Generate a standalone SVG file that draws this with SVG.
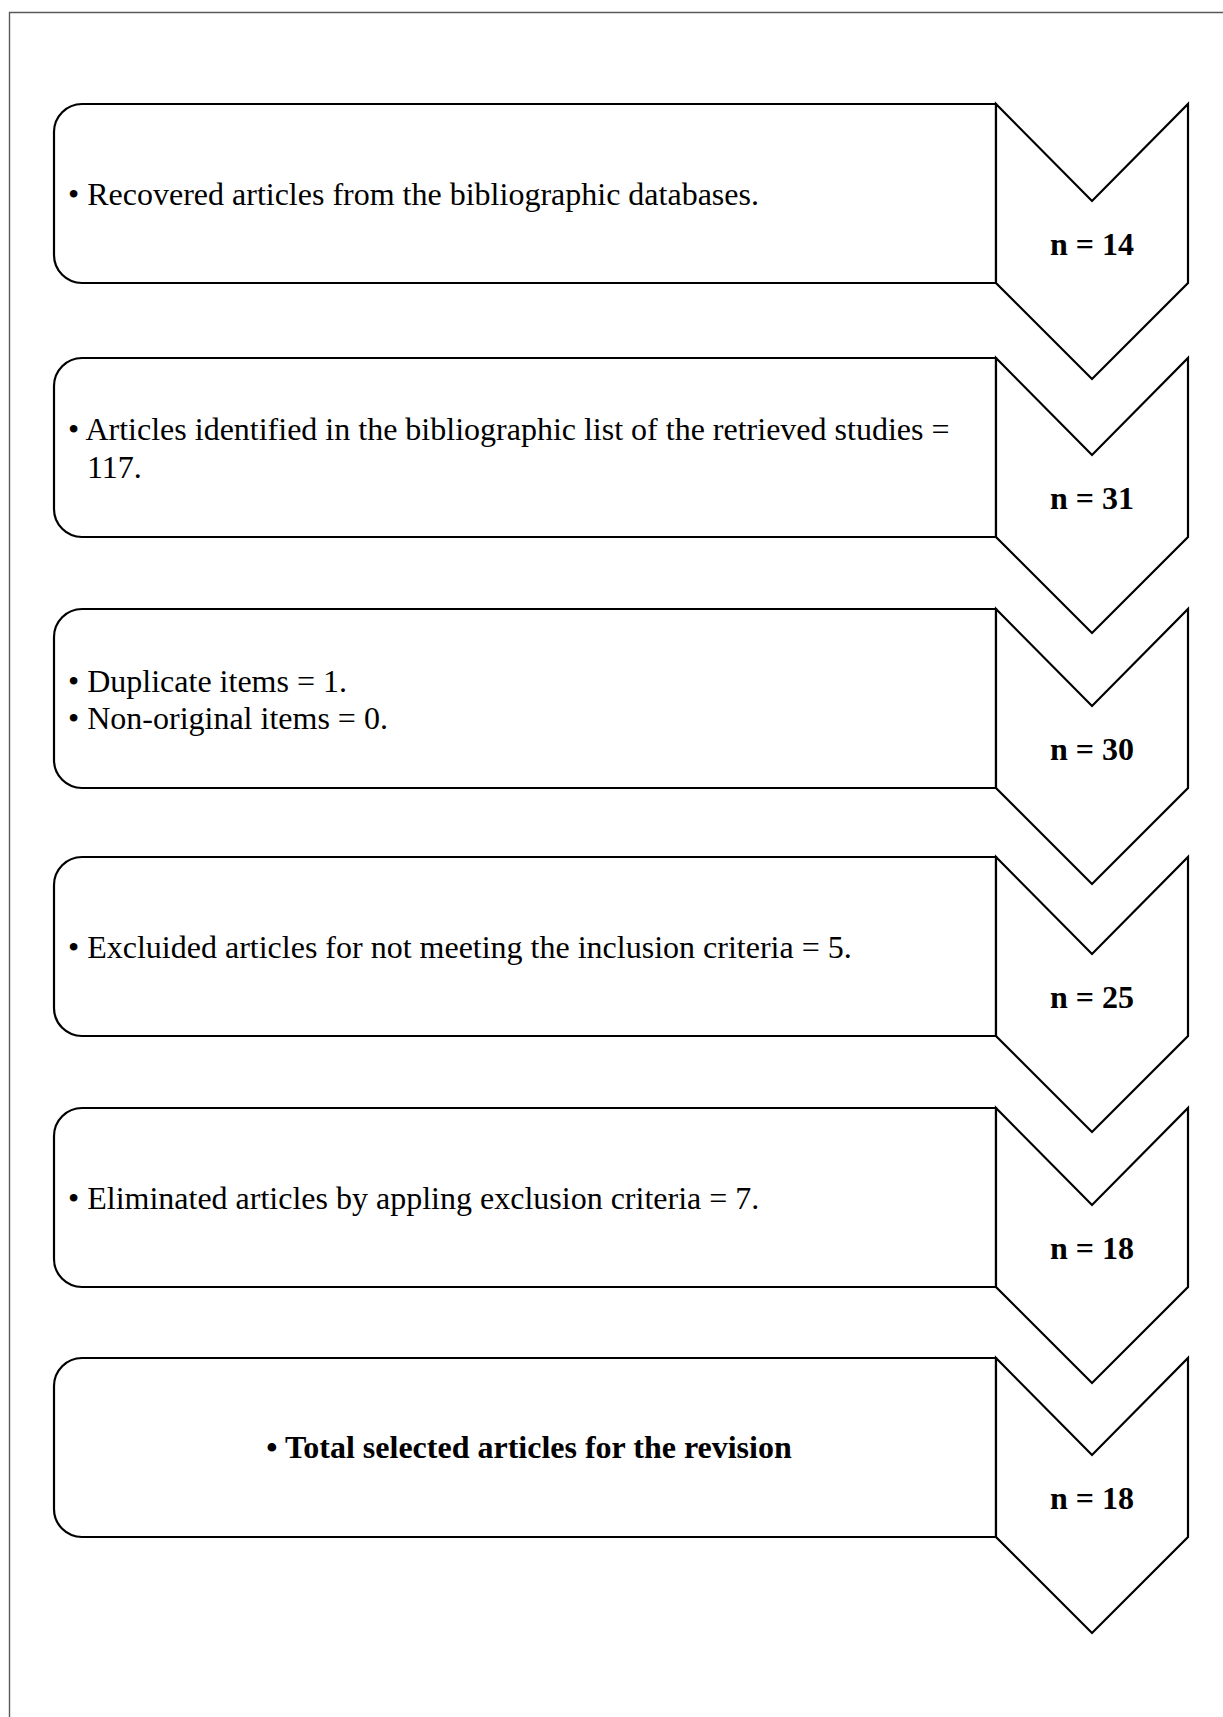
<svg xmlns="http://www.w3.org/2000/svg" width="1223" height="1717" viewBox="0 0 1223 1717">
  <style>
    .frame { fill: none; stroke: #595959; stroke-width: 1.4; }
    .box { fill: #ffffff; stroke: #000000; stroke-width: 2.2; stroke-linejoin: miter; }
    .chev { fill: #ffffff; stroke: #000000; stroke-width: 2.2; stroke-linejoin: miter; }
    .txt { font-family: "Liberation Serif", "Times New Roman", serif; font-size: 32px; fill: #000000; }
    .bold { font-weight: bold; }
    .num { font-family: "Liberation Serif", "Times New Roman", serif; font-size: 32px; font-weight: bold; fill: #000000; text-anchor: middle; }
  </style>
  <rect x="0" y="0" width="1223" height="1717" fill="#ffffff"/>
  <path class="frame" d="M9.5,1717 V12.5 H1223"/>

  <g id="node1">
    <path class="box" d="M996,104 H82 A28,28 0 0 0 54,132 V255 A28,28 0 0 0 82,283 H996 Z"/>
    <path class="chev" d="M996,104 L1092,201 L1188,104 V283 L1092,379 L996,283 Z"/>
    <text class="txt" x="68" y="205">• Recovered articles from the bibliographic databases.</text>
    <text class="num" x="1092" y="255">n = 14</text>
  </g>

  <g id="node2">
    <path class="box" d="M996,358 H82 A28,28 0 0 0 54,386 V509 A28,28 0 0 0 82,537 H996 Z"/>
    <path class="chev" d="M996,358 L1092,455 L1188,358 V537 L1092,633 L996,537 Z"/>
    <text class="txt" x="68" y="440">• Articles identified in the bibliographic list of the retrieved studies =</text>
    <text class="txt" x="87" y="478">117.</text>
    <text class="num" x="1092" y="509">n = 31</text>
  </g>

  <g id="node3">
    <path class="box" d="M996,609 H82 A28,28 0 0 0 54,637 V760 A28,28 0 0 0 82,788 H996 Z"/>
    <path class="chev" d="M996,609 L1092,706 L1188,609 V788 L1092,884 L996,788 Z"/>
    <text class="txt" x="68" y="692">• Duplicate items = 1.</text>
    <text class="txt" x="68" y="729">• Non-original items = 0.</text>
    <text class="num" x="1092" y="760">n = 30</text>
  </g>

  <g id="node4">
    <path class="box" d="M996,857 H82 A28,28 0 0 0 54,885 V1008 A28,28 0 0 0 82,1036 H996 Z"/>
    <path class="chev" d="M996,857 L1092,954 L1188,857 V1036 L1092,1132 L996,1036 Z"/>
    <text class="txt" x="68" y="958">• Excluided articles for not meeting the inclusion criteria = 5.</text>
    <text class="num" x="1092" y="1008">n = 25</text>
  </g>

  <g id="node5">
    <path class="box" d="M996,1108 H82 A28,28 0 0 0 54,1136 V1259 A28,28 0 0 0 82,1287 H996 Z"/>
    <path class="chev" d="M996,1108 L1092,1205 L1188,1108 V1287 L1092,1383 L996,1287 Z"/>
    <text class="txt" x="68" y="1209">• Eliminated articles by appling exclusion criteria = 7.</text>
    <text class="num" x="1092" y="1259">n = 18</text>
  </g>

  <g id="node6">
    <path class="box" d="M996,1358 H82 A28,28 0 0 0 54,1386 V1509 A28,28 0 0 0 82,1537 H996 Z"/>
    <path class="chev" d="M996,1358 L1092,1455 L1188,1358 V1537 L1092,1633 L996,1537 Z"/>
    <text class="txt bold" x="529" y="1458" text-anchor="middle">• Total selected articles for the revision</text>
    <text class="num" x="1092" y="1509">n = 18</text>
  </g>

  <g id="connectors"></g>
</svg>
